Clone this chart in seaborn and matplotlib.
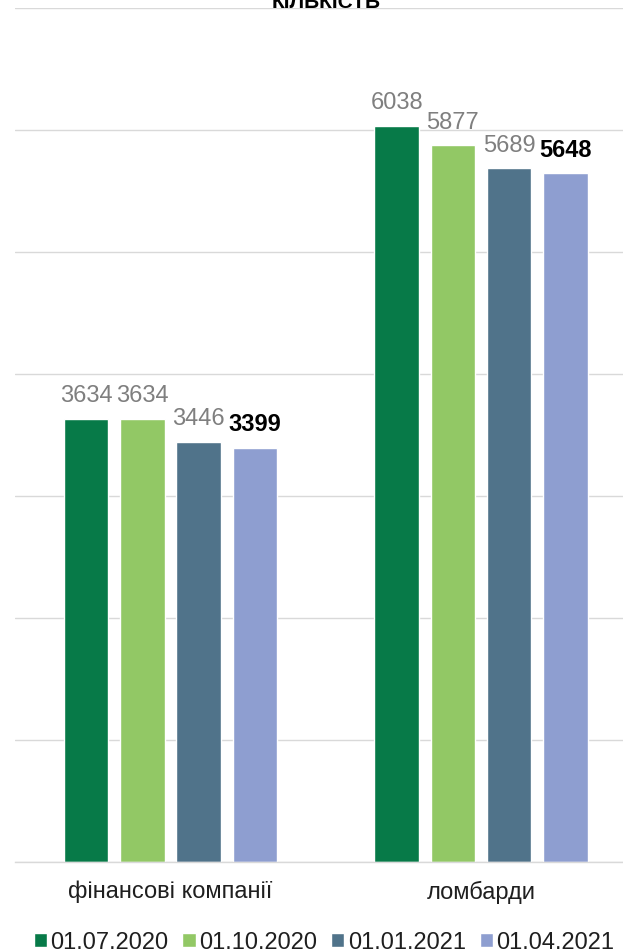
import matplotlib
matplotlib.use("Agg")
import matplotlib.pyplot as plt
import seaborn as sns
import pandas as pd
from matplotlib.ticker import FixedLocator

# ---- data ----
categories = ["фінансові компанії", "ломбарди"]
dates = ["01.07.2020", "01.10.2020", "01.01.2021", "01.04.2021"]
values_20200701 = [3634, 6038]
values_20201001 = [3634, 5877]
values_20210101 = [3446, 5689]
values_20210401 = [3399, 5648]
series = [values_20200701, values_20201001, values_20210101, values_20210401]
colors = ["#077A48", "#92C865", "#50738A", "#8E9ED0"]
title = "КІЛЬКІСТЬ"
y_ticks = [0, 1000, 2000, 3000, 4000, 5000, 6000, 7000]

rows = []
for d, vals in zip(dates, series):
    for c, v in zip(categories, vals):
        rows.append({"category": c, "date": d, "value": v})
df = pd.DataFrame(rows)

sns.set_theme(style="white")
plt.rcParams["font.family"] = ["Liberation Sans", "DejaVu Sans"]

W, H = 623, 953
fig = plt.figure(figsize=(W / 100, H / 100), dpi=100)
ax = fig.add_axes([15.25 / W, (H - 863) / H, 621 / W, 854 / H])

sns.barplot(data=df, x="category", y="value", hue="date", order=categories,
            hue_order=dates, palette=colors, saturation=1, width=0.725,
            gap=0.21, errorbar=None, ax=ax, legend=True)

ax.set_xlim(-0.5, 1.5)
ax.set_ylim(0, 7004)
ax.set_yticks(y_ticks)
ax.set_yticklabels([])
ax.tick_params(axis="y", length=0)
ax.yaxis.grid(True, color="#D9D9D9", linewidth=1.0)
ax.xaxis.grid(False)
ax.set_axisbelow(True)
for s in ["left", "right", "top"]:
    ax.spines[s].set_visible(False)
ax.spines["bottom"].set_color("#D9D9D9")
ax.spines["bottom"].set_linewidth(1.0)

ax.set_xlabel("")
ax.set_ylabel("")
ax.tick_params(axis="x", which="major", length=0, pad=12.5,
               labelsize=17, labelcolor="#1F1F1F")
ax.xaxis.set_minor_locator(FixedLocator([-0.5, 0.5, 1.5]))
ax.tick_params(axis="x", which="minor", length=5, width=1.0,
               color="#D9D9D9", direction="out")

for i, cont in enumerate(ax.containers):
    last = i == len(ax.containers) - 1
    ax.bar_label(cont, labels=[str(v) for v in series[i]], padding=9,
                 fontsize=17, color="black" if last else "#7F7F7F",
                 fontweight="bold" if last else "normal")

ax.set_title(title, fontsize=15, fontweight="bold", pad=1, color="black")

handles, labels = ax.get_legend_handles_labels()
ax.get_legend().remove()
fig.legend(handles, labels, loc="center", bbox_to_anchor=(0.52, 0.0100),
           ncol=4, frameon=False, fontsize=17, handlelength=0.56,
           handleheight=0.5, handletextpad=0.14, columnspacing=0.6,
           borderpad=0, borderaxespad=0, labelcolor="#1F1F1F")

fig.savefig("out.png", dpi=100)
